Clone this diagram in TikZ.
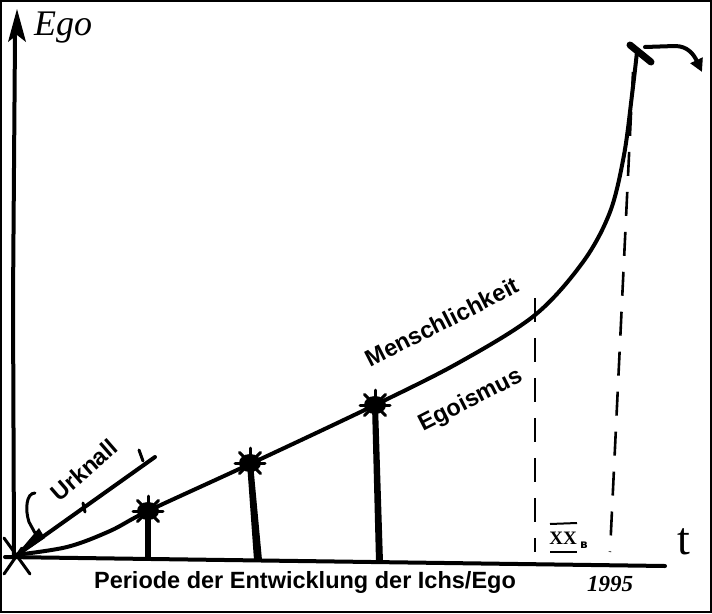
\documentclass[tikz,border=0pt]{standalone}
\usepackage{fontspec}
\setmainfont{Liberation Sans}
\newfontfamily\hand{DejaVu Sans}
\newfontfamily\serifit{Liberation Serif}
\usetikzlibrary{arrows.meta}
\begin{document}
\begin{tikzpicture}[x=1pt,y=-1pt,
  ink/.style={line width=4pt,line cap=round,line join=round},
  thin ink/.style={line width=3pt,line cap=round},
  dashline/.style={line width=2.6pt,dash pattern=on 24pt off 16pt},
  lbl/.style={font=\fontsize{23.5}{23.5}\selectfont\bfseries,inner sep=0pt},
  starblob/.style={fill=black,ellipse,inner sep=0pt,minimum width=24pt,minimum height=19pt}]
\useasboundingbox (0,0) rectangle (712,613);
\draw[line width=2pt] (1,1) rectangle (711,612);
% axes
\coordinate (O) at (15,555);
\coordinate (xend) at (665,566);
\draw[ink] (14,556) -- (13,300) -- (15,36);
\fill (17,9) -- (26,42) -- (17,35) -- (8,42) -- cycle;
\draw[ink] (5,557) -- (xend);
% origin cross
\draw[thin ink] (4,538) -- (30,574);
\draw[thin ink] (4,574) -- (22,548);
% labels
\node[font=\serifit\itshape\fontsize{36}{36}\selectfont] (ego) at (63,28) {Ego};
\node[font=\serifit\fontsize{46}{46}\selectfont] (t) at (684,542) {t};
\node[lbl] (periode) at (305,582) {Periode der Entwicklung der Ichs/Ego};
% main curve
\draw[ink] plot[smooth,tension=0.55] coordinates {(15,555) (67,547) (110,531) (148,511) (250,464) (375,405) (460,362) (535,315) (583,262) (610,212) (624,155) (632,95) (637,52)};
% stars
\coordinate (s1) at (148,511);
\coordinate (s2) at (250,463);
\coordinate (s3) at (375,405);
\foreach \s in {s1,s2,s3}{
  \fill (\s) ellipse [x radius=11pt, y radius=9pt];
  \foreach \a in {0,45,...,315}{\draw[thin ink] (\s) -- ++(\a:15);}
}
% stems
\fill (s1) ++(-3,0) -- ++(6,0) -- (151,560) -- (145,560) -- cycle;
\fill (s2) ++(-3,0) -- ++(6,0) -- (262,560) -- (254,560) -- cycle;
\fill (s3) ++(-3,0) -- ++(6,0) -- (383,562) -- (376,562) -- cycle;
% Urknall line
\draw[ink] (20,553) -- (155,457);
\draw[thin ink] (139,450) -- (143,461);
\draw[thin ink] (83,503) -- (85,512);
\node[lbl,rotate=41] (urknall) at (84,470) {Urknall};
% hook arrow toward origin
\draw[thin ink] (35,493) .. controls (26,493) and (25,510) .. (29,522) -- (35,533);
\fill (22,548) -- (39,528) -- (45,538) -- (30,548) -- cycle;
% dashed lines
\draw[dashline] (535,298) -- (535,552);
\draw[dashline] (633,72) -- (610,552);
% XX label
\node[font=\serifit\bfseries\fontsize{19}{19}\selectfont,inner sep=0pt] (xx) at (563,538) {XX};
\draw[line width=2pt] (550,524) -- (577,523);
\draw[line width=2pt] (550,552) -- (577,552);
\node[font=\hand\bfseries\fontsize{12}{12}\selectfont,inner sep=0pt] (vek) at (584,545) {в};
\node[font=\serifit\itshape\bfseries\fontsize{23}{23}\selectfont,inner sep=0pt] (year) at (610,584) {1995};
% text labels along curve
\node[lbl,rotate=27] (mensch) at (442,322) {Menschlichkeit};
\node[lbl,rotate=27] (egoism) at (471,401) {Egoismus};
% top mark and arrow
\draw[line width=7pt,line cap=round] (630,45) -- (651,62);
\draw[ink,-{Triangle[length=13pt,width=13pt]}] (645,47) -- (675,46) .. controls (688,46) and (694,55) .. (702,72);
\end{tikzpicture}
\end{document}
